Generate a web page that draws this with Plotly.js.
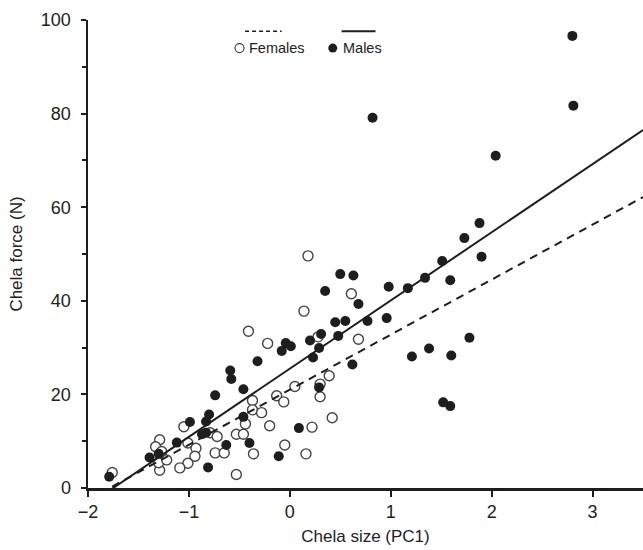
<!DOCTYPE html>
<html>
<head>
<meta charset="utf-8">
<script src="https://cdn.plot.ly/plotly-3.0.1.min.js"></script>
<style>html,body{margin:0;padding:0;background:#fff;}#chart{width:643px;height:550px;}</style>
</head>
<body>
<div id="chart"></div>
<script>
// Females (open circles)
const femaleX = [-1.76,-1.29,-1.33,-1.27,-1.29,-1.30,-1.22,-1.01,-0.93,-0.94,-1.01,-1.09,-1.05,-0.79,-0.72,-0.74,-0.65,-0.53,-0.53,-0.46,-0.44,-0.37,-0.37,-0.28,-0.36,-0.41,-0.22,-0.20,-0.13,-0.06,-0.05,0.18,0.61,0.14,0.28,0.68,0.39,0.05,0.30,0.30,0.42,0.22,0.16];
const femaleY = [3.3,10.3,8.8,7.8,3.8,5.4,6.0,9.6,8.5,6.8,5.3,4.3,13.1,11.8,11.0,7.5,7.5,2.9,11.5,11.5,13.7,18.7,16.7,16.1,7.3,33.5,30.9,13.3,19.7,18.4,9.2,49.6,41.5,37.8,32.3,31.8,24.0,21.7,22.2,19.5,15.0,13.0,7.3];
// Males (filled circles)
const maleX = [-1.79,-1.39,-1.30,-1.12,-0.99,-0.83,-0.80,-0.87,-0.83,-0.63,-0.81,-0.74,-0.59,-0.58,-0.46,-0.46,-0.40,-0.32,-0.11,0.09,-0.04,0.01,-0.08,0.50,0.63,0.35,0.68,0.98,0.45,0.55,0.77,0.96,0.20,0.31,0.48,0.29,0.23,0.62,0.29,0.82,2.80,2.81,2.04,1.88,1.73,1.51,1.90,1.59,1.34,1.17,1.78,1.60,1.38,1.21,1.52,1.59];
const maleY = [2.4,6.5,7.3,9.7,14.1,14.2,15.7,11.5,11.8,9.2,4.4,19.8,25.1,23.3,21.1,15.2,9.6,27.1,6.8,12.8,31.0,30.3,29.3,45.7,45.4,42.1,39.3,43.0,35.4,35.7,35.7,36.3,31.5,32.9,32.5,29.9,27.9,26.4,21.5,79.1,96.6,81.7,71.0,56.6,53.4,48.5,49.4,44.4,44.9,42.7,32.1,28.3,29.8,28.1,18.3,17.5];
// Regression fits [slope, intercept]
const femaleFit = [11.76, 21.0];
const maleFit = [14.57, 25.5];
// Axis ticks
const xTicks = [-2,-1,0,1,2,3];
const yTicks = [0,20,40,60,80,100];
const xRange = [-2, 3.5];
const yRange = [0, 100];

const font = 'Liberation Sans, Arial, Helvetica, sans-serif';
const ink = '#1e1e1e';

function fitLine(xs, fit){
  const x0 = Math.min.apply(null, xs);
  const x1 = xRange[1];
  return {x:[x0, x1], y:[fit[1]+fit[0]*x0, fit[1]+fit[0]*x1]};
}
const fF = fitLine(femaleX, femaleFit);
const mF = fitLine(maleX, maleFit);

const traces = [
  {x: femaleX, y: femaleY, type:'scatter', mode:'markers', name:'Females',
   marker:{symbol:'circle', size:10, color:'#ffffff', line:{color:'#444', width:1.4}}},
  {x: maleX, y: maleY, type:'scatter', mode:'markers', name:'Males',
   marker:{symbol:'circle', size:10, color:ink, line:{width:0}}},
  {x: fF.x, y: fF.y, type:'scatter', mode:'lines', name:'Females fit',
   line:{color:ink, width:2, dash:'8px,6px'}},
  {x: mF.x, y: mF.y, type:'scatter', mode:'lines', name:'Males fit',
   line:{color:ink, width:2}}
];

const layout = {
  width:643, height:550,
  margin:{l:88, r:0, t:20, b:62, pad:0},
  paper_bgcolor:'#fff', plot_bgcolor:'#fff',
  showlegend:false,
  font:{family:font, color:'#222', size:18},
  xaxis:{range:xRange, tickvals:xTicks, ticks:'outside', ticklen:6, tickwidth:2, tickcolor:ink,
    showline:true, linewidth:2.5, linecolor:ink, showgrid:false, zeroline:false,
    tickfont:{size:18, family:font, color:'#222'},
    title:{text:'Chela size (PC1)', font:{size:17, family:font, color:'#222'}, standoff:9}},
  yaxis:{range:yRange, tickvals:yTicks, ticks:'outside', ticklen:5, tickwidth:2, tickcolor:ink,
    showline:true, linewidth:2.5, linecolor:ink, showgrid:false, zeroline:false,
    minor:{dtick:10, tick0:0, ticks:'outside', ticklen:4, tickwidth:2, tickcolor:ink, showgrid:false},
    ticklabelstandoff:6,
    tickfont:{size:18, family:font, color:'#222'},
    title:{text:'Chela force (N)', font:{size:17, family:font, color:'#222'}, standoff:14}},
  shapes:[
    {type:'line', xref:'paper', yref:'paper', x0:0.283, x1:0.349, y0:0.976, y1:0.976,
     line:{color:ink, width:1.5, dash:'4px,3px'}},
    {type:'line', xref:'paper', yref:'paper', x0:0.457, x1:0.518, y0:0.976, y1:0.976,
     line:{color:ink, width:2}},
    {type:'circle', xref:'paper', yref:'paper', xsizemode:'pixel', ysizemode:'pixel',
     xanchor:0.273, yanchor:0.940, x0:-4.5, x1:4.5, y0:-4.5, y1:4.5,
     fillcolor:'#fff', line:{color:'#444', width:1.2}},
    {type:'circle', xref:'paper', yref:'paper', xsizemode:'pixel', ysizemode:'pixel',
     xanchor:0.441, yanchor:0.940, x0:-4.5, x1:4.5, y0:-4.5, y1:4.5,
     fillcolor:ink, line:{color:ink, width:0}}
  ],
  annotations:[
    {xref:'paper', yref:'paper', x:0.287, y:0.940, xanchor:'left', yanchor:'middle',
     text:'Females', showarrow:false, font:{size:14.5, family:font, color:'#222'}},
    {xref:'paper', yref:'paper', x:0.456, y:0.940, xanchor:'left', yanchor:'middle',
     text:'Males', showarrow:false, font:{size:14.5, family:font, color:'#222'}}
  ]
};

Plotly.newPlot('chart', traces, layout, {displayModeBar:false, staticPlot:true});
</script>
</body>
</html>
